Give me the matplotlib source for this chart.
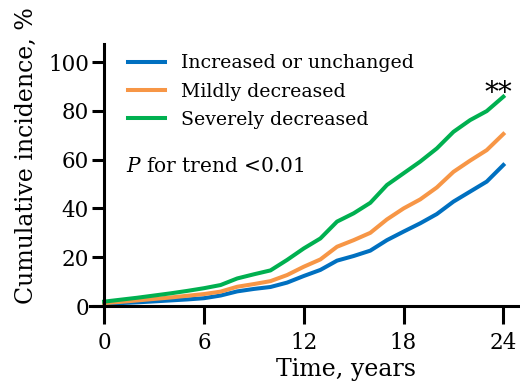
import matplotlib
matplotlib.use('Agg')
import matplotlib.pyplot as plt

# Cumulative incidence (%) by year
years = list(range(0, 25))
increased = [0.8, 1.2, 1.5, 1.9, 2.3, 2.7, 3.2, 4.3, 6.0, 7.0, 7.8, 9.6, 12.3, 14.8, 18.6, 20.5, 22.7,
             27.0, 30.5, 33.9, 37.7, 42.8, 46.9, 51.0, 57.8]
mildly = [1.2, 1.7, 2.3, 2.9, 3.5, 4.2, 4.9, 5.9, 7.9, 9.0, 10.2, 12.7, 16.1, 19.1, 24.3, 27.0, 30.0,
          35.5, 40.0, 43.7, 48.6, 55.0, 59.6, 63.9, 70.5]
severely = [1.8, 2.6, 3.4, 4.3, 5.2, 6.2, 7.3, 8.6, 11.3, 13.0, 14.6, 18.9, 23.6, 27.7, 34.6, 38.0, 42.3,
            49.6, 54.4, 59.2, 64.6, 71.4, 76.2, 79.9, 85.8]
labels = ['Increased or unchanged', 'Mildly decreased', 'Severely decreased']
colors = ['#0070C0', '#F79646', '#00B050']

plt.rcParams['font.family'] = 'DejaVu Serif'
plt.rcParams['mathtext.fontset'] = 'dejavuserif'

fig = plt.figure(figsize=(5.2, 3.88), dpi=100)
ax = fig.add_axes([0.1731, 0.2113, 0.8269, 0.6753])

for vals, lab, col in zip([increased, mildly, severely], labels, colors):
    ax.plot(years, vals, color=col, lw=2.9, label=lab)

ax.set_xlim(-0.85, 25.0)
ax.set_ylim(0, 107.4)
ax.set_xticks([0, 6, 12, 18, 24])
ax.set_yticks([0, 20, 40, 60, 80, 100])

for s in ['top', 'right']:
    ax.spines[s].set_visible(False)
ax.spines['left'].set_position(('data', 0))
ax.spines['left'].set_linewidth(2.2)
ax.spines['bottom'].set_linewidth(2.2)

ax.tick_params(axis='x', length=13, width=2.2, labelsize=15.5, pad=6)
ax.tick_params(axis='y', length=9, width=2.2, labelsize=15.5, pad=2)

ax.set_xlabel('Time, years', fontsize=17)
ax.set_ylabel('Cumulative incidence, %', fontsize=17)
ax.xaxis.set_label_coords(0.595, -0.2)
ax.yaxis.set_label_coords(-0.121, 0.573)

leg = ax.legend(loc='upper left', bbox_to_anchor=(0.048, 1.025), frameon=False, fontsize=13.6,
                handlelength=2.0, handletextpad=0.8, labelspacing=0.54)

ax.text(1.3, 57, r'$P$ for trend <0.01', fontsize=14.5, va='center')
ax.text(23.7, 87, '**', fontsize=20, ha='center', va='center')

fig.savefig('out.png', dpi=100)
